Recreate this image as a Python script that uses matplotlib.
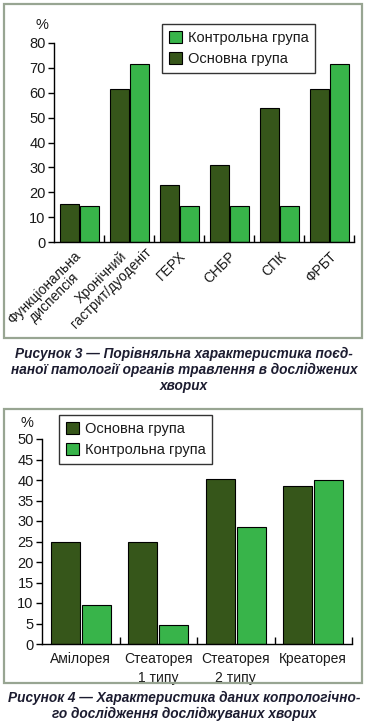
import matplotlib
matplotlib.use("Agg")
import matplotlib.pyplot as plt
import matplotlib.transforms as mtransforms
from matplotlib.patches import Rectangle, Patch
import numpy as np

plt.rcParams['font.family'] = ['Liberation Sans', 'DejaVu Sans']

# ---- data: figure 3 ----
cats1 = ["Функціональна\nдиспепсія", "Хронічний\nгастрит/дуоденіт", "ГЕРХ", "СНБР", "СПК", "ФРБТ"]
main1 = [15.4, 61.5, 23.1, 30.8, 53.8, 61.5]
ctrl1 = [14.3, 71.4, 14.3, 14.3, 14.3, 71.4]
yticks1 = [0, 10, 20, 30, 40, 50, 60, 70, 80]

# ---- data: figure 4 ----
cats2 = ["Амілорея", "Стеаторея\n1 типу", "Стеаторея\n2 типу", "Креаторея"]
main2 = [25.0, 25.0, 40.2, 38.5]
ctrl2 = [9.4, 4.6, 28.5, 39.9]
yticks2 = [0, 5, 10, 15, 20, 25, 30, 35, 40, 45, 50]

label_main = "Основна група"
label_ctrl = "Контрольна група"
caption1 = "Рисунок 3 — Порівняльна характеристика поєд-\nнаної патології органів травлення в досліджених\nхворих"
caption2 = "Рисунок 4 — Характеристика даних копрологічно-\nго дослідження досліджуваних хворих"

DARK = "#36561a"
GREEN = "#38b44a"
FRAME = "#98a592"
TXT = "#1a1a1a"
CAP = "#1c1c30"

W, H = 368, 725
fig = plt.figure(figsize=(W / 100, H / 100), dpi=100)

def fx(px):
    return px / W

def fy(py):
    return 1 - py / H

# frames
for (x0, y0, x1, y1) in [(4, 4, 362, 338), (4, 409, 362, 683)]:
    fig.patches.append(Rectangle((fx(x0), fy(y1)), fx(x1) - fx(x0), fy(y0) - fy(y1),
                                 transform=fig.transFigure, fill=False,
                                 edgecolor=FRAME, linewidth=1.6))

def style_axes(ax, n, ymax, yticks):
    ax.set_xlim(-0.5, n - 0.5)
    ax.set_ylim(0, ymax)
    for s in ['top', 'right']:
        ax.spines[s].set_visible(False)
    ax.spines['left'].set_linewidth(1.0)
    ax.spines['bottom'].set_linewidth(1.0)
    ax.set_yticks(yticks)
    ax.tick_params(axis='y', direction='out', length=4, width=1.0, labelsize=10.5,
                   labelcolor=TXT, pad=2)
    ax.set_xticks(np.arange(n) + 0.5, minor=True)
    ax.tick_params(axis='x', which='minor', direction='in', length=5, width=1.0)
    ax.tick_params(axis='x', which='major', length=0, labelsize=10, labelcolor=TXT)
    ax.patch.set_visible(False)

def make_legend(handles, labels, x0, y0):
    leg = fig.legend(handles, labels, loc='upper left',
                     bbox_to_anchor=(fx(x0), fy(y0)), fontsize=10.5, frameon=True,
                     fancybox=False, edgecolor='black', borderaxespad=0,
                     handlelength=0.9, handleheight=0.9, handletextpad=0.4,
                     borderpad=0.45, labelspacing=0.5)
    leg.get_frame().set_linewidth(1.0)
    for t in leg.get_texts():
        t.set_color(TXT)
    return leg

# ---- Figure 3 axes ----
ax1 = fig.add_axes([fx(54), fy(242), fx(354) - fx(54), fy(43) - fy(242)])
x1 = np.arange(len(cats1))
ax1.bar(x1 - 0.2, main1, width=0.38, color=DARK, edgecolor='black', linewidth=0.8, label=label_main)
ax1.bar(x1 + 0.2, ctrl1, width=0.38, color=GREEN, edgecolor='black', linewidth=0.8, label=label_ctrl)
style_axes(ax1, len(cats1), 80, yticks1)
ax1.set_xticks(x1)
ax1.set_xticklabels(cats1, rotation=45, ha='right', va='top', rotation_mode='anchor',
                    multialignment='center', linespacing=1.0)
ax1.tick_params(axis='x', which='major', pad=5)
# per-label nudges (pixels) of the rotated labels
label_nudge = [(-5, 0), (5, 14), (0, 0), (0, 0), (0, 0), (0, 0)]
for lab, (dx, dy) in zip(ax1.get_xticklabels(), label_nudge):
    off = mtransforms.ScaledTranslation(dx / 100, dy / 100, fig.dpi_scale_trans)
    lab.set_transform(lab.get_transform() + off)
fig.text(fx(42), fy(25), "%", ha='center', va='center', fontsize=10.5, color=TXT)

h_main = Patch(facecolor=DARK, edgecolor='black', linewidth=0.8)
h_ctrl = Patch(facecolor=GREEN, edgecolor='black', linewidth=0.8)
make_legend([h_ctrl, h_main], [label_ctrl, label_main], 162, 24)

fig.text(0.5, fy(370), caption1, ha='center', va='center', fontsize=9.8,
         fontweight='bold', fontstyle='italic', color=CAP, linespacing=1.15)

# ---- Figure 4 axes ----
ax2 = fig.add_axes([fx(42), fy(644), fx(352) - fx(42), fy(439) - fy(644)])
x2 = np.arange(len(cats2))
ax2.bar(x2 - 0.2, main2, width=0.375, color=DARK, edgecolor='black', linewidth=0.8, label=label_main)
ax2.bar(x2 + 0.2, ctrl2, width=0.375, color=GREEN, edgecolor='black', linewidth=0.8, label=label_ctrl)
style_axes(ax2, len(cats2), 50, yticks2)
ax2.set_xticks(x2)
ax2.set_xticklabels(cats2, ha='center', va='top', linespacing=1.45)
ax2.tick_params(axis='x', which='major', pad=6)
fig.text(fx(27), fy(423), "%", ha='center', va='center', fontsize=10.5, color=TXT)

make_legend([h_main, h_ctrl], [label_main, label_ctrl], 59, 415)

fig.text(0.5, fy(706), caption2, ha='center', va='center', fontsize=9.8,
         fontweight='bold', fontstyle='italic', color=CAP, linespacing=1.2)

fig.savefig("out.png", dpi=100)
